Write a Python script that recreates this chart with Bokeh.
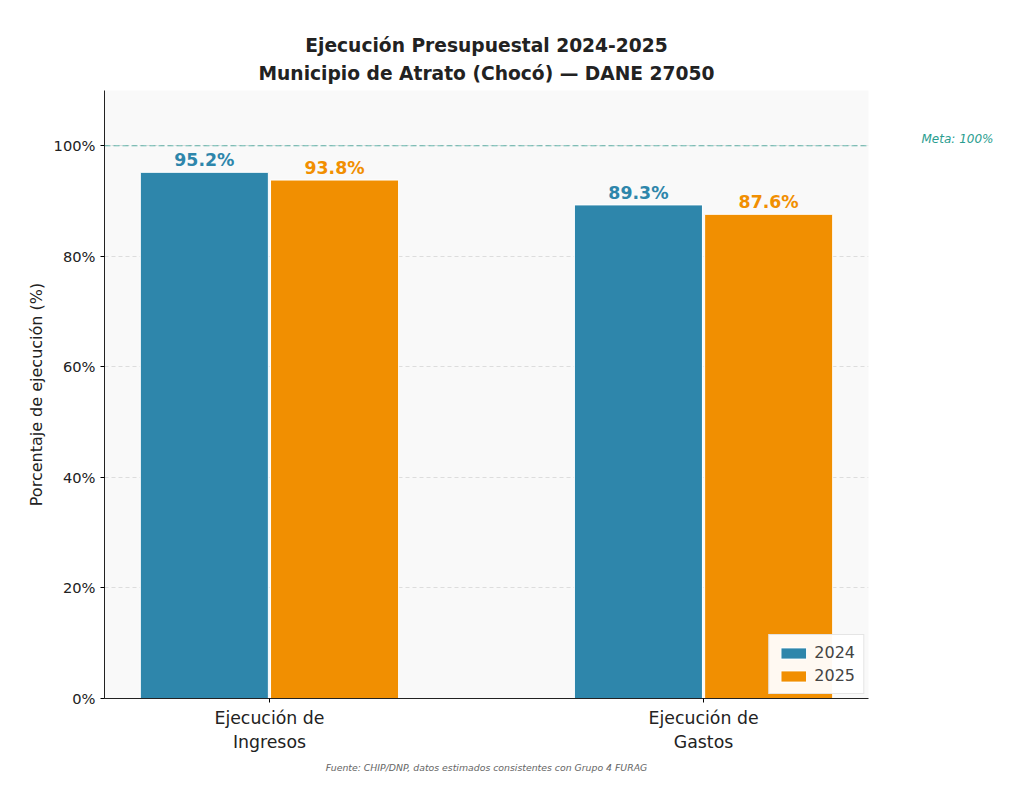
from bokeh.plotting import figure
from bokeh.models import ColumnDataSource, Span, Title, FixedTicker, Legend, LegendItem, LinearAxis
from bokeh.core.properties import value
from bokeh.embed import file_html
from bokeh.resources import INLINE

categories = ["Ejecución de\nIngresos", "Ejecución de\nGastos"]
years = ["2024", "2025"]
v2024 = [95.2, 89.3]
v2025 = [93.8, 87.6]
colors = ["#2e86ab", "#f18f01"]
F = "DejaVu Sans"

p = figure(width=1008, height=777, x_range=(-0.38, 1.38), y_range=(0, 110),
           output_backend="svg", toolbar_location=None,
           min_border_left=104, min_border_right=140, min_border_top=90, min_border_bottom=46)
p.background_fill_color = "#f9f9f9"
p.outline_line_color = None
p.border_fill_color = "white"

xs = list(range(len(categories)))
items = []
for vals, off, col, yr in [(v2024, -0.15, colors[0], years[0]), (v2025, 0.15, colors[1], years[1])]:
    src = ColumnDataSource(dict(x=[x + off for x in xs], top=vals, lab=[f"{v:.1f}%" for v in vals]))
    r = p.vbar(x="x", top="top", width=0.295, source=src, fill_color=col, line_color="white", line_width=1)
    p.text(x="x", y="top", text="lab", source=src, text_color=col, text_font_style="bold",
           text_font=value(F), text_font_size="13pt", text_align="center", text_baseline="bottom", y_offset=-2)
    items.append(LegendItem(label=yr, renderers=[r]))

p.add_layout(Span(location=100, dimension="width", line_color="#2a9d8f", line_dash="6 3",
                  line_width=1, line_alpha=0.7))

meta = LinearAxis(ticker=FixedTicker(ticks=[101.2]), major_label_overrides={101.2: "Meta: 100%"},
                  axis_line_color=None, major_tick_line_color=None, minor_tick_line_color=None,
                  major_label_standoff=47, major_label_text_color="#2a9d8f",
                  major_label_text_font_size="9pt", major_label_text_font_style="italic",
                  major_label_text_font=F)
p.add_layout(meta, "right")

leg = Legend(items=items, location="bottom_right", label_text_font_size="12pt", label_text_font=F,
             background_fill_color="white", border_line_color="#cccccc", glyph_width=32, glyph_height=14,
             spacing=4, padding=8, margin=4)
p.add_layout(leg)

p.xgrid.grid_line_color = None
p.ygrid.grid_line_color = "#dddddd"
p.ygrid.grid_line_dash = "4 3"
p.yaxis[0].ticker = FixedTicker(ticks=[0, 20, 40, 60, 80, 100])
p.yaxis[0].major_label_overrides = {t: f"{t}%" for t in [0, 20, 40, 60, 80, 100]}
p.xaxis.ticker = FixedTicker(ticks=xs)
p.xaxis.major_label_overrides = {i: c for i, c in enumerate(categories)}
p.xaxis.major_label_text_font_size = "13pt"
p.yaxis[0].major_label_text_font_size = "11pt"
p.yaxis[0].axis_label = "Porcentaje de ejecución (%)"
p.yaxis[0].axis_label_text_font_size = "12pt"
p.yaxis[0].axis_label_text_font_style = "normal"
p.yaxis[0].axis_label_text_font = F
p.yaxis[0].axis_label_text_color = "#222222"
for ax in (p.xaxis[0], p.yaxis[0]):
    ax.minor_tick_line_color = None
    ax.axis_line_color = "#222222"
    ax.major_tick_out = 4
    ax.major_tick_in = 0
    ax.major_label_text_color = "#222222"
    ax.major_label_text_font = F

p.add_layout(Title(text="Fuente: CHIP/DNP, datos estimados consistentes con Grupo 4 FURAG",
                   text_font_size="7pt", text_font_style="italic", text_color="#666666",
                   text_font=F, align="center"), "below")
p.add_layout(Title(text="Municipio de Atrato (Chocó) — DANE 27050", text_font_size="14pt",
                   text_font_style="bold", align="center", text_color="#222222", text_font=F,
                   standoff=14), "above")
p.add_layout(Title(text="Ejecución Presupuestal 2024-2025", text_font_size="14pt",
                   text_font_style="bold", align="center", text_color="#222222", text_font=F,
                   standoff=-4), "above")

open("out.html", "w").write(file_html(p, INLINE))
